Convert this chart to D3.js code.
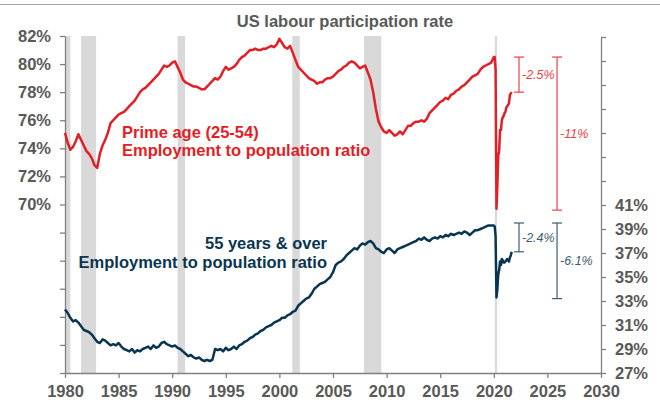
<!DOCTYPE html>
<meta charset="utf-8">
<html>
<head>
<title>US labour participation rate</title>
<script src="https://cdn.jsdelivr.net/npm/d3@7"></script>
<style>
  html, body { margin: 0; padding: 0; background: #fff; }
  svg { font-family: "Liberation Sans", Arial, sans-serif; display: block; }
</style>
</head>
<body>
<svg id="chart" width="660" height="404"></svg>
<script>
// prime age (25-54) employment to population ratio, quarterly 1980 Q1 .. 2019 Q4
var primeQ = [
  75.1, 74.4, 73.9, 74.1,  74.5, 75.0, 74.6, 74.2,  73.8, 73.6, 73.3, 72.8,
  72.6, 73.6, 74.2, 74.6,  75.1, 75.8, 76.0, 76.2,  76.4, 76.5, 76.6, 76.8,
  77.0, 77.2, 77.4, 77.7,  78.0, 78.2, 78.3, 78.5,  78.7, 78.9, 79.1, 79.3,
  79.6, 79.9, 79.8, 79.9,  80.1, 80.2, 79.8, 79.4,  78.9, 78.7, 78.6, 78.5,
  78.4, 78.4, 78.3, 78.2,  78.2, 78.4, 78.6, 78.8,  79.0, 78.9, 79.1, 79.5,
  79.8, 79.6, 79.7, 79.8,  80.0, 80.3, 80.5, 80.6,  80.8, 81.0, 81.0, 81.1,
  81.0, 81.0, 81.1, 81.1,  81.2, 81.3, 81.2, 81.4,  81.8, 81.5, 81.2, 81.1,
  81.3, 80.8, 80.3, 79.8,  79.6, 79.4, 79.2, 79.0,  78.9, 78.8, 78.6, 78.7,
  78.7, 78.9, 79.0, 79.0,  79.1, 79.3, 79.5, 79.6,  79.8, 79.9, 80.1, 80.2,
  80.1, 79.9, 79.7, 79.8,  79.9, 79.4, 78.9, 78.0,  76.8, 75.9, 75.5, 75.2,
  75.1, 75.3, 75.1, 74.9,  75.0, 75.2, 75.0, 75.3,  75.6, 75.6, 75.8, 75.9,
  75.9, 76.0, 75.9, 76.1,  76.5, 76.7, 76.9, 77.1,  77.3, 77.4, 77.6, 77.5,
  77.8, 77.9, 78.1, 78.2,  78.4, 78.5, 78.7, 78.9,  79.1, 79.2, 79.3, 79.6,
  79.8, 79.9, 80.0, 80.1
];
// prime age, monthly Jan 2020 .. Sep 2021
var primeM = [
  80.5, 80.5, 79.6, 69.7, 71.4, 73.5, 73.8, 75.3, 75.3, 76.0, 76.2, 76.3,
  76.5, 76.6, 76.9, 77.0, 77.1, 77.2, 77.8, 77.9, 78.0
];
// 55 years & over employment to population ratio, quarterly 1980 Q1 .. 2019 Q4
var olderQ = [
  32.3, 32.0, 31.6, 31.3,  31.4, 31.2, 30.9, 30.6,  30.5, 30.4, 30.2, 29.9,
  29.6, 29.5, 29.8, 29.7,  29.5, 29.3, 29.4, 29.3,  29.5, 29.2, 29.0, 28.9,
  28.8, 29.0, 28.7, 28.9,  28.8, 29.0, 29.1, 29.2,  29.0, 29.3, 29.1, 29.2,
  29.5, 29.6, 29.4, 29.3,  29.2, 29.3, 29.1, 29.0,  28.8, 28.6, 28.4, 28.5,
  28.3, 28.2, 28.3, 28.1,  28.0, 28.1, 28.0, 28.1,  29.0, 28.9, 29.0, 28.8,
  29.1, 28.9, 29.0, 29.2,  29.0, 29.3, 29.4, 29.6,  29.7, 29.9, 30.0, 30.2,
  30.3, 30.5, 30.6, 30.8,  30.9, 31.0, 31.2, 31.3,  31.4, 31.6, 31.6, 31.8,
  31.9, 32.1, 32.2, 32.6,  32.8, 33.0, 33.2, 33.3,  33.6, 34.0, 34.2, 34.4,
  34.5, 34.6, 34.8, 35.0,  35.4, 36.0, 36.2, 36.3,  36.5, 36.8, 37.0, 37.2,
  37.4, 37.3, 37.6, 37.8,  37.7, 37.9, 38.0, 37.8,  37.4, 37.3, 37.1, 37.0,
  37.3, 37.4, 37.2, 37.0,  37.3, 37.4, 37.5, 37.6,  37.7, 37.8, 37.9, 38.0,
  38.2, 38.1, 38.3, 38.1,  38.0, 38.2, 38.3, 38.2,  38.4, 38.3, 38.5, 38.4,
  38.6, 38.5, 38.6, 38.7,  38.6, 38.8, 38.7, 38.5,  38.7, 38.9, 38.9, 39.0,
  39.1, 39.2, 39.3, 39.3
];
// 55 years & over, monthly Jan 2020 .. Sep 2021
var olderM = [
  39.3, 39.2, 38.4, 33.3, 34.0, 35.2, 35.6, 36.3, 36.0, 36.5, 36.4, 36.2,
  36.2, 36.3, 36.4, 36.5, 36.4, 36.3, 36.6, 36.8, 37.1
];
// recessions (decimal years)
var recessions = [[1980.0, 1980.5], [1981.5, 1982.9], [1990.5, 1991.2],
                  [2001.2, 2001.9], [2007.9, 2009.5], [2020.1, 2020.3]];
// drop annotations: [year, from, to, label]
var redDrops = [[2022.35, 80.5, 78.0, "-2.5%"], [2025.9, 80.5, 69.6, "-11%"]];
var navyDrops = [[2022.35, 39.5, 37.1, "-2.4%"], [2025.9, 39.5, 33.2, "-6.1%"]];
var xTicks = [1980, 1985, 1990, 1995, 2000, 2005, 2010, 2015, 2020, 2025, 2030];
var leftTicks = [58, 60, 62, 64, 66, 68, 70, 72, 74, 76, 78, 80, 82];
var rightTicks = [27, 29, 31, 33, 35, 37, 39, 41, 43, 45, 47, 49, 51, 53, 55];

function toSeries(q, m) {
  var out = q.map(function (v, i) { return { t: 1980 + i / 4, v: v }; });
  m.forEach(function (v, i) { out.push({ t: 2020 + i / 12, v: v }); });
  return out;
}
var prime = toSeries(primeQ, primeM);
var older = toSeries(olderQ, olderM);

var RED = "#e31e26", NAVY = "#0a3551", GREY = "#595959", AXIS = "#808080";
var svg = d3.select("#chart");

var x = d3.scaleLinear().domain([1980, 2030]).range([65, 601]);
var yL = d3.scaleLinear().domain([58, 82]).range([373, 36]);
var yR = d3.scaleLinear().domain([27, 55]).range([373, 37]);

// top rule
svg.append("line").attr("x1", 0).attr("x2", 660).attr("y1", 4.5).attr("y2", 4.5)
  .attr("stroke", "#a6a6a6").attr("stroke-width", 1.2);

svg.append("text").attr("x", 345).attr("y", 27).attr("text-anchor", "middle")
  .attr("font-size", 16.5).attr("font-weight", "bold").attr("fill", GREY)
  .text("US labour participation rate");

// recession bars
svg.append("g").selectAll("rect").data(recessions).enter().append("rect")
  .attr("x", function (d) { return x(d[0]); })
  .attr("width", function (d) { return x(d[1]) - x(d[0]); })
  .attr("y", 36).attr("height", 337).attr("fill", "#d9d9d9");

// axes
function styleAxis(g) {
  g.select(".domain").attr("stroke", AXIS).attr("stroke-width", 1.3);
  g.selectAll(".tick line").attr("stroke", AXIS).attr("stroke-width", 1.3);
  g.selectAll("text").attr("font-size", 16.5).attr("font-weight", "bold")
    .attr("fill", GREY).attr("font-family", "Liberation Sans, Arial, sans-serif");
}
svg.append("g").attr("transform", "translate(0,373)")
  .call(d3.axisBottom(x).tickValues(xTicks).tickFormat(d3.format("d")).tickSize(5).tickSizeOuter(0).tickPadding(7))
  .call(styleAxis);
svg.append("g").attr("transform", "translate(65,0)")
  .call(d3.axisLeft(yL).tickValues(leftTicks).tickSize(5).tickSizeOuter(0).tickPadding(9)
    .tickFormat(function (d) { return d >= 70 ? d + "%" : ""; }))
  .call(styleAxis);
svg.append("g").attr("transform", "translate(601,0)")
  .call(d3.axisRight(yR).tickValues(rightTicks).tickSize(5).tickSizeOuter(0).tickPadding(9)
    .tickFormat(function (d) { return d <= 41 ? d + "%" : ""; }))
  .call(styleAxis);

// lines
svg.append("path").datum(older).attr("fill", "none").attr("stroke", NAVY)
  .attr("stroke-width", 2.5).attr("stroke-linejoin", "round")
  .attr("d", d3.line().x(function (d) { return x(d.t); }).y(function (d) { return yR(d.v); }));
svg.append("path").datum(prime).attr("fill", "none").attr("stroke", RED)
  .attr("stroke-width", 2.5).attr("stroke-linejoin", "round")
  .attr("d", d3.line().x(function (d) { return x(d.t); }).y(function (d) { return yL(d.v); }));

// drop annotations
function drops(data, scale, color) {
  var g = svg.append("g").selectAll("g").data(data).enter().append("g");
  g.append("line").attr("x1", function (d) { return x(d[0]); }).attr("x2", function (d) { return x(d[0]); })
    .attr("y1", function (d) { return scale(d[1]); }).attr("y2", function (d) { return scale(d[2]); })
    .attr("stroke", color).attr("stroke-width", 1.2);
  [1, 2].forEach(function (k) {
    g.append("line").attr("x1", function (d) { return x(d[0]) - 5; }).attr("x2", function (d) { return x(d[0]) + 5; })
      .attr("y1", function (d) { return scale(d[k]); }).attr("y2", function (d) { return scale(d[k]); })
      .attr("stroke", color).attr("stroke-width", 1.2);
  });
  g.append("text").attr("x", function (d) { return x(d[0]) + 3; })
    .attr("y", function (d) { return (scale(d[1]) + scale(d[2])) / 2 + 4.5; })
    .attr("font-size", 12.5).attr("font-style", "italic").attr("fill", color)
    .text(function (d) { return d[3]; });
}
drops(redDrops, yL, "#e8424b");
drops(navyDrops, yR, "#3d5d6e");

// series labels
var lab1 = svg.append("text").attr("font-size", 16.5).attr("font-weight", "bold").attr("fill", RED);
lab1.append("tspan").attr("x", 122).attr("y", 138).text("Prime age (25-54)");
lab1.append("tspan").attr("x", 122).attr("y", 156).text("Employment to population ratio");
var lab2 = svg.append("text").attr("font-size", 16.5).attr("font-weight", "bold").attr("fill", NAVY)
  .attr("text-anchor", "end");
lab2.append("tspan").attr("x", 327).attr("y", 249).text("55 years & over");
lab2.append("tspan").attr("x", 327).attr("y", 268).text("Employment to population ratio");
</script>
</body>
</html>
